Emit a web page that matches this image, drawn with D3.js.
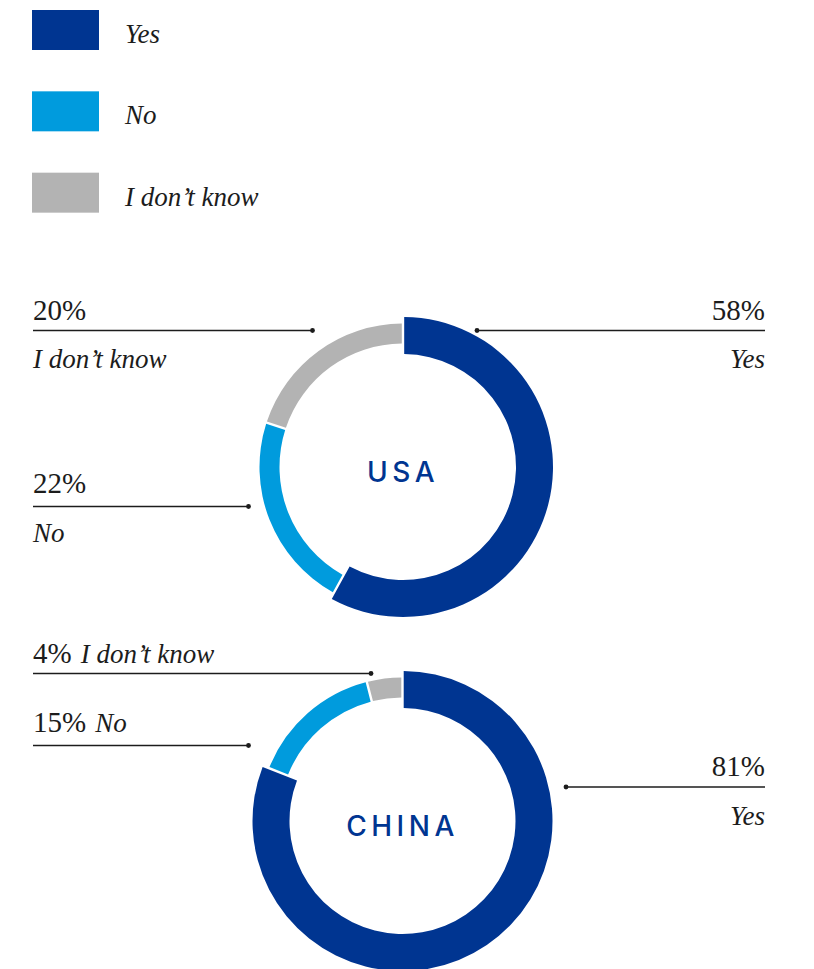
<!DOCTYPE html>
<html>
<head>
<meta charset="utf-8">
<script src="https://cdn.jsdelivr.net/npm/d3@7"></script>
<style>
  html, body { margin: 0; padding: 0; background: #fff; }
  svg { display: block; }
</style>
</head>
<body>
<div id="chart"></div>
<script>
// Survey answers per country (percent)
const categories = ["Yes", "No", "I don\u2019t know"];
const usaValues = [58, 22, 20];
const chinaValues = [81, 15, 4];
const countries = ["USA", "CHINA"];

const colors = d3.scaleOrdinal()
  .domain(categories)
  .range(["#003591", "#009bdd", "#b3b3b3"]);

const W = 814, H = 969;
const svg = d3.select("#chart").append("svg")
  .attr("width", W).attr("height", H)
  .style("background", "#fff");

const serif = "'Liberation Serif', 'Times New Roman', serif";
const ink = "#1c1c1c";

// ---- legend ----
const legend = svg.append("g").attr("transform", "translate(32,10)");
const legendRow = d3.scaleBand().domain(categories).range([0, 244]);
categories.forEach(c => {
  const g = legend.append("g").attr("transform", `translate(0,${legendRow(c)})`);
  g.append("rect").attr("width", 67).attr("height", 40).attr("fill", colors(c));
  g.append("text")
    .attr("x", 93).attr("y", 33)
    .attr("font-family", serif).attr("font-style", "italic")
    .attr("font-size", 27).attr("fill", ink)
    .text(c);
});

// ---- donuts ----
const pie = d3.pie().sort(null).value(d => d.value);

// the "Yes" ring is drawn wider than the others
const arc = d3.arc()
  .innerRadius(d => d.data.cat === categories[0] ? 113 : 123.5)
  .outerRadius(d => d.data.cat === categories[0] ? 150 : 143.5)
  .padAngle(0.02)
  .padRadius(120);

// leader-line layout: label baseline y, line y, dot x, side, inline or stacked
const layouts = {
  USA: {
    cx: 403, cy: 467,
    labels: [
      { cat: "Yes", side: "right", y: 320, lineY: 330.5, dotX: 477, subY: 368 },
      { cat: "No", side: "left", y: 493, lineY: 506.5, dotX: 248.5, subY: 541.5 },
      { cat: "I don\u2019t know", side: "left", y: 320, lineY: 330.5, dotX: 312.5, subY: 368 }
    ]
  },
  CHINA: {
    cx: 402.5, cy: 821,
    labels: [
      { cat: "Yes", side: "right", y: 775.5, lineY: 787, dotX: 566, subY: 825 },
      { cat: "No", side: "left", y: 731.5, lineY: 745.5, dotX: 248.5, inline: true },
      { cat: "I don\u2019t know", side: "left", y: 663, lineY: 673.5, dotX: 371, inline: true }
    ]
  }
};

const leftX = 33, rightX = 765;

function drawDonut(name, values) {
  const L = layouts[name];
  const data = categories.map((c, i) => ({ cat: c, value: values[i] }));

  const g = svg.append("g").attr("transform", `translate(${L.cx},${L.cy})`);
  g.selectAll("path")
    .data(pie(data))
    .join("path")
    .attr("d", arc)
    .attr("fill", d => colors(d.data.cat));

  g.append("text")
    .attr("x", 0).attr("y", 5)
    .attr("dy", "0.35em")
    .attr("text-anchor", "middle")
    .attr("font-family", "Inter, 'Open Sans', sans-serif")
    .attr("font-weight", 500)
    .attr("font-size", 28)
    .attr("letter-spacing", 4.5)
    .attr("fill", "#003591")
    .text(name);

  // labels and leader lines
  const ann = svg.append("g");
  L.labels.forEach(lb => {
    const v = data.find(d => d.cat === lb.cat).value;
    const x1 = lb.side === "left" ? leftX : rightX;
    ann.append("line")
      .attr("x1", x1).attr("x2", lb.dotX)
      .attr("y1", lb.lineY).attr("y2", lb.lineY)
      .attr("stroke", ink).attr("stroke-width", 1.3);
    ann.append("circle")
      .attr("cx", lb.dotX).attr("cy", lb.lineY).attr("r", 2.4)
      .attr("fill", ink);

    const anchor = lb.side === "left" ? "start" : "end";
    const t = ann.append("text")
      .attr("x", x1).attr("y", lb.y)
      .attr("text-anchor", anchor)
      .attr("font-family", serif)
      .attr("fill", ink);
    t.append("tspan").attr("font-size", 29).text(v + "%");
    if (lb.inline) {
      t.append("tspan")
        .attr("dx", 9)
        .attr("font-size", 27).attr("font-style", "italic")
        .text(lb.cat);
    } else {
      ann.append("text")
        .attr("x", x1).attr("y", lb.subY)
        .attr("text-anchor", anchor)
        .attr("font-family", serif).attr("font-style", "italic")
        .attr("font-size", 27).attr("fill", ink)
        .text(lb.cat);
    }
  });
}

drawDonut(countries[0], usaValues);
drawDonut(countries[1], chinaValues);
</script>
</body>
</html>
